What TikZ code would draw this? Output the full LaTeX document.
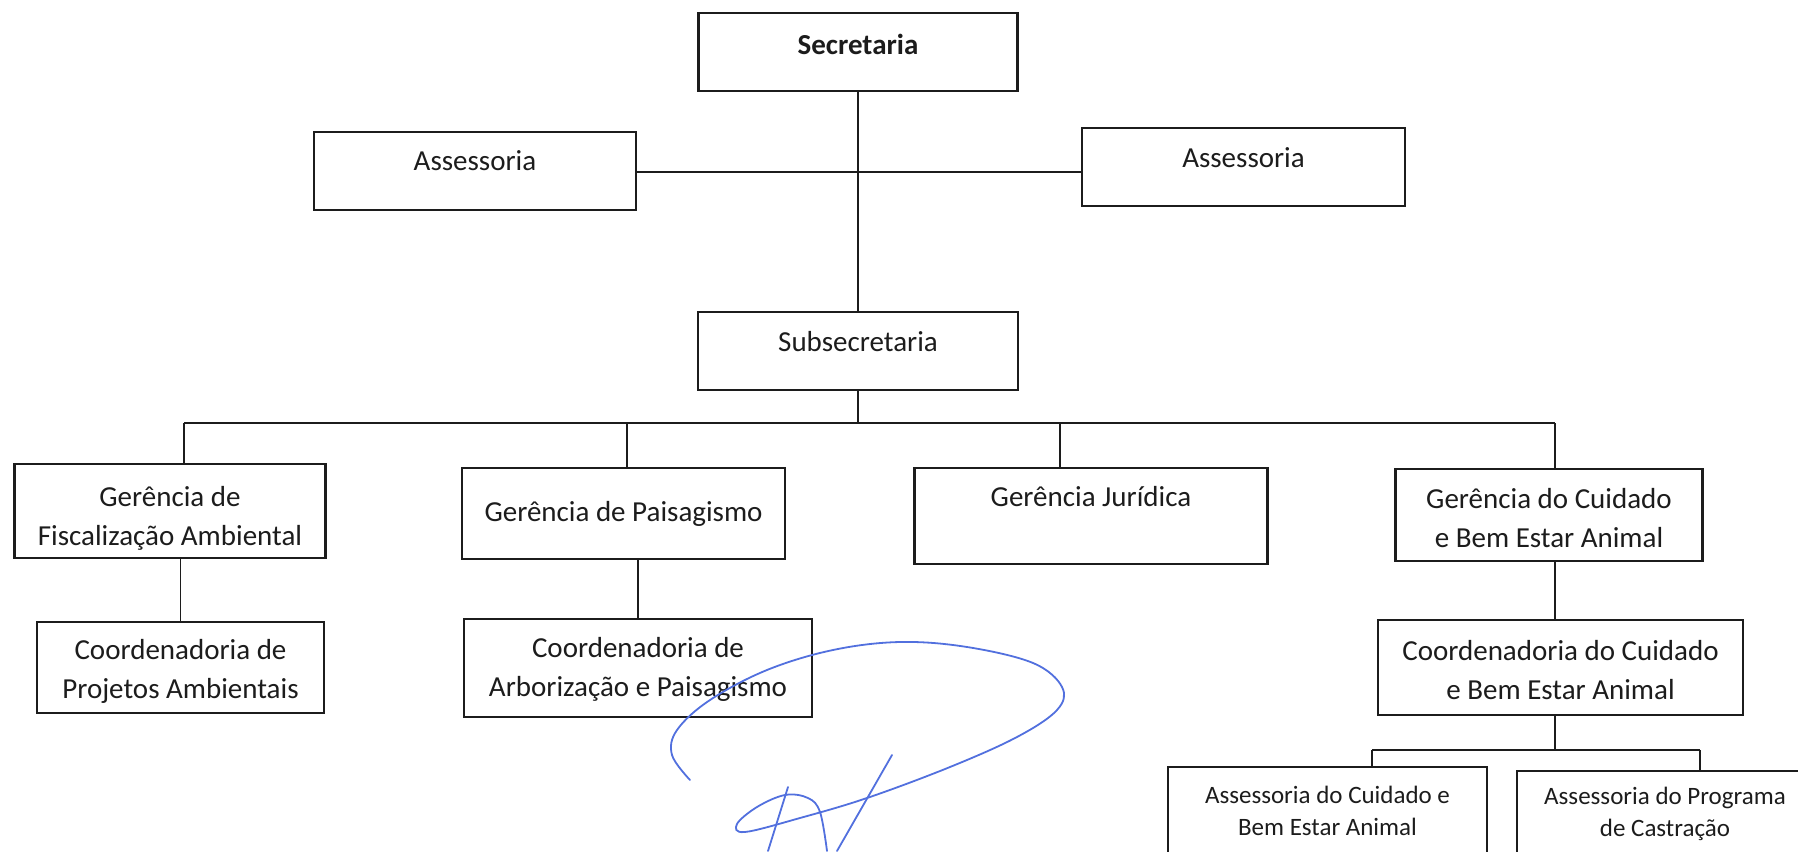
\documentclass[tikz,border=0pt]{standalone}
\usepackage{fontspec}
\setmainfont{Carlito}
\definecolor{ink}{RGB}{28,28,28}
\definecolor{pen}{RGB}{82,112,222}
\tikzset{
  orgbox/.style={draw=ink,line width=2.4pt,inner sep=0pt,align=center,text=ink,
    font=\fontsize{29}{39}\selectfont},
  smallbox/.style={orgbox,font=\fontsize{25}{32}\selectfont},
  wh/.style 2 args={minimum width=#1pt,minimum height=#2pt},
  lift/.style={text height=22pt,text depth=#1},
  twoline/.style={text height=#1,text depth=6pt},
  twoline/.default=69pt,
  link/.style={draw=ink,line width=1.3pt},
  signline/.style={draw=pen,line width=1.8pt,line cap=round,line join=round}
}
\begin{document}
\begin{tikzpicture}[x=1pt,y=-1pt]
  \useasboundingbox (0,0) rectangle (1798,851);
  \clip (0,0) rectangle (1798,851);

  % caixas
  \node[orgbox,wh={319}{78},lift=16.6pt,font=\fontsize{29}{39}\selectfont\bfseries] (sec) at (858,52) {Secretaria};
  \node[orgbox,wh={322}{78},lift=22.6pt] (assL) at (475,171) {Assessoria};
  \node[orgbox,wh={323}{78},lift=21.6pt] (assR) at (1243.5,167) {Assessoria};
  \node[orgbox,wh={320}{78},lift=20.6pt] (sub) at (858,351) {Subsecretaria};

  \node[orgbox,wh={311}{94},twoline=75pt] (gfa) at (170,511) {Gerência de\\Fiscalização Ambiental};
  \node[orgbox,wh={323}{91}] (gp) at (623.5,513.5) {Gerência de Paisagismo};
  \node[orgbox,wh={353}{96},lift=40.6pt] (gj) at (1091,516) {Gerência Jurídica};
  \node[orgbox,wh={307}{92},twoline=70pt] (gc) at (1549,515) {Gerência do Cuidado\\e Bem Estar Animal};

  \node[orgbox,wh={287}{91},twoline=68pt] (cpa) at (180.5,667.5) {Coordenadoria de\\Projetos Ambientais};
  \node[orgbox,wh={348}{98},twoline=63pt] (cap) at (638,668) {Coordenadoria de\\Arborização e Paisagismo};
  \node[orgbox,wh={365}{95},twoline] (ccb) at (1560.5,667.5) {Coordenadoria do Cuidado\\e Bem Estar Animal};

  \node[smallbox,wh={319}{88}] (acb) at (1327.5,811) {Assessoria do Cuidado e\\Bem Estar Animal};
  \node[smallbox,wh={296}{85}] (apc) at (1665,813.5) {Assessoria do Programa\\de Castração};

  % pontos de ligação
  \coordinate (jA) at (858,172);
  \coordinate (b1) at (858,423);
  \coordinate (t1) at (184,423);
  \coordinate (t2) at (627,423);
  \coordinate (t3) at (1060,423);
  \coordinate (t4) at (1555,423);
  \coordinate (b2) at (1555,750);
  \coordinate (t6) at (1372,750);
  \coordinate (t7) at (1700,750);

  % ligações
  \draw[link] (sec.south) -- (sub.north);
  \draw[link] (jA -| assL.east) -- (jA -| assR.west);
  \draw[link] (sub.south) -- (b1);
  \draw[link] (t1) -- (t4);
  \foreach \t/\n in {t1/gfa,t2/gp,t3/gj,t4/gc}
    \draw[link] (\t) -- (\t |- \n.north);
  \draw[link] (cpa.north |- gfa.south) -- (cpa.north);
  \draw[link] (cap.north |- gp.south) -- (cap.north);
  \draw[link] (t4 |- gc.south) -- (t4 |- ccb.north);
  \draw[link] (t4 |- ccb.south) -- (b2);
  \draw[link] (t6) -- (t7);
  \draw[link] (t6) -- (t6 |- acb.north);
  \draw[link] (t7) -- (t7 |- apc.north);

  % rubrica
  \draw[signline] plot[smooth,tension=0.6] coordinates {(690,780) (672,755) (677,730) (710,700)
    (767,670) (833,650) (900,642) (967,647) (1033,663) (1062,687) (1057,710) (1017,737)
    (950,767) (867,798) (800,818) (745,832) (737,824) (757,807) (785,795) (808,798)
    (820,812) (827,851)};
  \draw[signline] (892,755) -- (837,851);
  \draw[signline] (788,787) -- (768,851);
\end{tikzpicture}
\end{document}
